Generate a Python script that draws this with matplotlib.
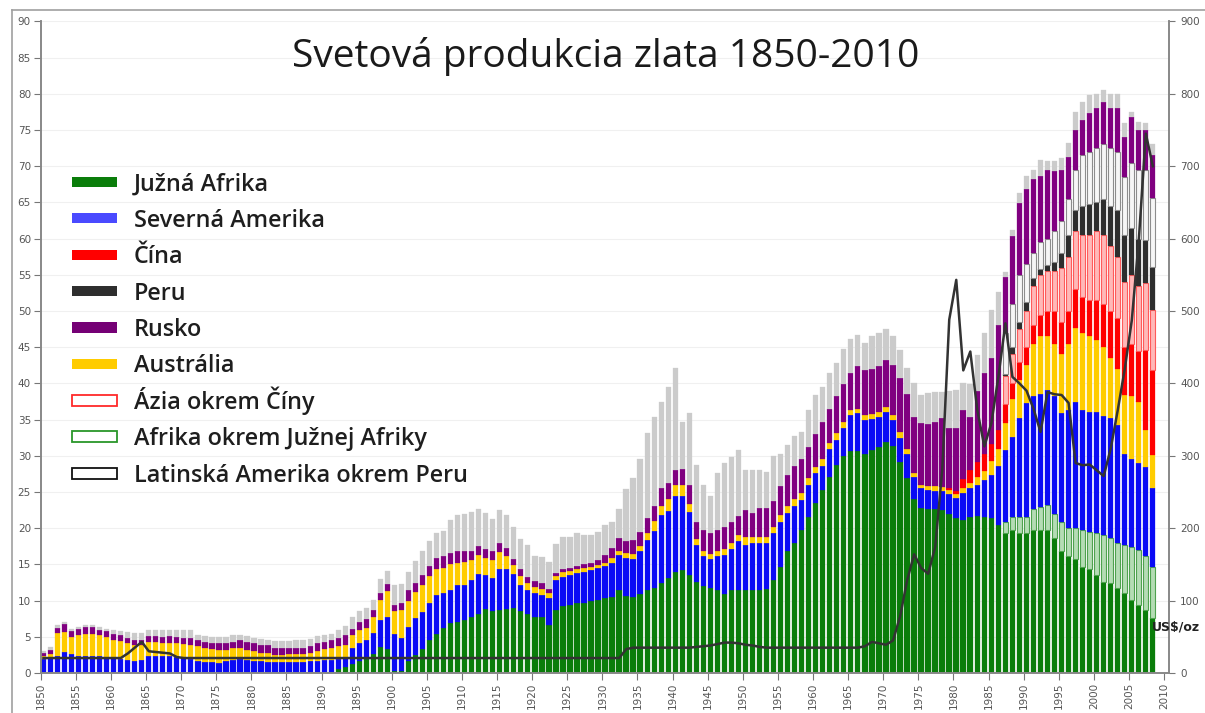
import numpy as np
import matplotlib.pyplot as plt
from matplotlib.patches import Rectangle
from matplotlib.lines import Line2D

# production, million troy oz, 1850-2008
years = np.arange(1850, 2009)

south_africa = [
    0, 0, 0, 0, 0, 0, 0, 0, 0, 0,
    0, 0, 0, 0, 0, 0, 0, 0, 0, 0,
    0, 0, 0, 0, 0, 0, 0, 0, 0, 0,
    0, 0, 0, 0, 0, 0, 0, 0, 0, 0,
    0, 0.2, 0.5, 0.8, 1.2, 1.7, 2.0, 2.6, 3.6, 3.3,
    0.3, 0.3, 1.6, 2.5, 3.3, 4.6, 5.4, 6.2, 6.9, 7.1,
    7.3, 7.8, 8.2, 8.8, 8.5, 8.7, 8.9, 9.0, 8.6, 8.2,
    7.8, 7.8, 6.6, 8.7, 9.2, 9.4, 9.6, 9.7, 10.0, 10.1,
    10.3, 10.5, 11.4, 10.6, 10.5, 10.9, 11.4, 11.8, 12.4, 13.1,
    13.9, 14.2, 13.5, 12.6, 12.0, 11.8, 11.5, 10.9, 11.4, 11.5,
    11.5, 11.4, 11.5, 11.6, 12.8, 14.7, 16.8, 17.9, 19.8, 21.5,
    23.5, 25.3, 27.1, 28.7, 30.0, 30.6, 30.6, 30.3, 30.8, 31.2,
    31.9, 31.3, 29.1, 27.0, 24.1, 22.8, 22.7, 22.6, 22.5, 22.0,
    21.4, 21.2, 21.5, 21.7, 21.6, 21.4, 20.4, 19.4, 19.8, 19.4,
    19.4, 19.8, 19.8, 19.7, 18.6, 16.8, 16.1, 15.7, 14.7, 14.3,
    13.6, 12.6, 12.4, 11.7, 11.0, 10.1, 9.4, 8.7, 7.6]

africa_other = [0] * 137 + [
    1.4, 1.8, 2.2, 2.1, 2.9, 3.1, 3.5, 3.4, 4.1, 3.9, 4.3,
    5.1, 5.2, 5.7, 6.4, 6.2, 6.2, 6.7, 7.3, 7.6, 7.4, 7.1]

north_america = [
    2.0, 2.1, 2.3, 2.9, 2.6, 2.4, 2.4, 2.4, 2.3, 2.2,
    2.1, 2.0, 1.8, 1.7, 1.8, 2.3, 2.4, 2.4, 2.3, 2.2,
    2.1, 2.0, 1.6, 1.5, 1.5, 1.4, 1.6, 1.8, 1.9, 1.8,
    1.7, 1.6, 1.5, 1.5, 1.5, 1.5, 1.5, 1.5, 1.6, 1.7,
    1.8, 1.6, 1.5, 1.4, 2.3, 2.4, 2.5, 2.9, 3.7, 4.5,
    5.1, 4.6, 4.7, 5.1, 5.1, 5.0, 5.4, 4.8, 4.6, 5.0,
    4.8, 5.0, 5.5, 4.7, 4.6, 5.7, 5.5, 4.7, 3.5, 3.3,
    3.2, 3.0, 3.7, 4.1, 4.1, 4.1, 4.2, 4.3, 4.2, 4.4,
    4.5, 4.7, 4.9, 5.3, 5.2, 5.9, 7.0, 7.8, 9.4, 9.3,
    10.5, 10.2, 8.8, 5.1, 4.1, 3.9, 4.6, 5.4, 5.7, 6.7,
    6.2, 6.5, 6.5, 6.3, 6.5, 6.1, 5.3, 5.1, 4.1, 4.5,
    4.1, 3.3, 3.8, 3.5, 3.9, 5.0, 5.3, 4.6, 4.3, 4.1,
    4.2, 3.6, 3.4, 3.3, 3.0, 2.7, 2.6, 2.6, 2.6, 2.7,
    2.8, 3.6, 4.0, 4.3, 5.0, 6.0, 8.2, 10.0, 11.0, 13.6,
    15.8, 15.5, 15.6, 15.9, 16.2, 15.0, 16.3, 17.5, 16.5, 16.6,
    16.8, 16.5, 16.6, 16.4, 12.6, 12.2, 12.0, 12.4, 10.8]

australia = [
    0.3, 0.5, 3.2, 2.7, 2.4, 2.9, 3.0, 3.0, 2.9, 2.8,
    2.5, 2.4, 2.4, 2.2, 2.0, 2.0, 1.9, 1.8, 1.9, 1.9,
    1.9, 1.9, 2.1, 1.9, 1.8, 1.8, 1.6, 1.6, 1.6, 1.4,
    1.3, 1.2, 1.2, 1.0, 1.0, 1.1, 1.1, 1.1, 1.1, 1.3,
    1.5, 1.6, 1.7, 1.7, 1.7, 1.8, 1.7, 2.3, 2.8, 3.5,
    3.1, 3.8, 3.7, 3.6, 3.8, 3.8, 3.6, 3.5, 3.5, 3.1,
    3.2, 2.8, 2.6, 2.4, 2.5, 2.3, 1.8, 1.2, 1.3, 1.0,
    0.9, 0.8, 0.7, 0.6, 0.6, 0.6, 0.5, 0.5, 0.4, 0.4,
    0.4, 0.7, 0.6, 0.7, 0.8, 0.8, 0.9, 1.4, 1.2, 1.6,
    1.6, 1.6, 1.1, 0.8, 0.8, 0.7, 0.7, 0.8, 0.8, 0.8,
    1.1, 0.9, 0.8, 0.9, 0.9, 1.0, 0.9, 1.0, 0.9, 0.9,
    0.9, 1.0, 0.8, 0.9, 0.8, 0.7, 0.6, 0.7, 0.7, 0.8,
    0.7, 0.7, 0.8, 0.6, 0.5, 0.5, 0.5, 0.6, 0.6, 0.6,
    0.5, 0.7, 0.8, 1.1, 1.3, 1.9, 2.4, 3.7, 5.2, 5.3,
    5.2, 7.3, 8.0, 7.4, 7.3, 8.1, 9.2, 10.1, 10.7, 10.4,
    9.9, 9.5, 8.3, 7.7, 8.1, 8.6, 8.5, 5.1, 4.6]

china = [0] * 129 + [
    0.2, 0.5, 1.3, 1.7, 2.1, 2.3, 2.3, 2.6, 2.6, 2.2,
    2.5, 2.5, 2.5, 3.0, 3.5, 4.5, 4.5, 4.5, 5.4, 5.0,
    5.0, 5.5, 6.0, 6.5, 7.0, 6.6, 7.3, 7.0, 11.0, 11.8]

asia_other = [0] * 137 + [
    3.9, 4.0, 4.5, 5.0, 5.5, 5.5, 5.5, 5.5, 7.5, 7.5, 8.0,
    8.5, 9.0, 9.5, 9.5, 9.0, 8.5, 9.0, 9.5, 9.0, 9.2, 8.2]

peru = [0] * 137 + [
    0.3, 1.0, 1.0, 1.3, 1.0, 0.8, 0.8, 1.3, 2.0, 3.0, 3.0,
    4.0, 4.3, 4.0, 5.0, 5.5, 6.5, 6.5, 6.5, 6.5, 6.0, 6.0]

latam_other = [0] * 137 + [
    5.7, 6.0, 6.5, 5.2, 3.5, 3.7, 3.7, 4.2, 4.5, 5.0, 5.5,
    7.0, 7.2, 7.5, 7.5, 8.0, 8.0, 8.0, 9.0, 9.5, 9.7, 9.5]

russia = [
    0.4, 0.6, 0.7, 1.2, 0.8, 0.8, 0.9, 0.9, 0.8, 0.8,
    0.8, 0.8, 0.7, 0.7, 0.7, 0.8, 0.8, 0.8, 0.9, 0.9,
    0.9, 0.9, 0.8, 0.9, 0.8, 0.9, 0.9, 0.9, 1.0, 1.1,
    1.1, 1.1, 1.1, 1.0, 0.9, 0.9, 0.9, 0.9, 1.0, 1.1,
    1.0, 1.1, 1.1, 1.3, 0.9, 1.2, 1.3, 0.9, 0.9, 1.0,
    0.9, 0.9, 1.4, 1.3, 1.4, 1.4, 1.5, 1.7, 1.6, 1.6,
    1.5, 1.2, 1.3, 1.2, 1.2, 1.2, 1.0, 0.9, 1.0, 0.7,
    0.8, 0.8, 0.6, 0.4, 0.4, 0.4, 0.5, 0.5, 0.6, 0.7,
    1.1, 1.3, 1.7, 1.7, 1.9, 1.9, 2.1, 2.0, 2.5, 2.2,
    2.1, 2.2, 2.6, 2.4, 2.9, 2.9, 3.0, 3.1, 3.0, 2.7,
    3.7, 3.3, 4.0, 4.0, 3.6, 4.0, 4.3, 4.6, 4.8, 4.3,
    4.5, 5.0, 4.7, 5.2, 5.2, 5.2, 5.9, 6.2, 6.2, 6.3,
    6.5, 7.0, 7.4, 7.6, 7.8, 8.5, 8.6, 8.8, 9.5, 8.3,
    8.6, 9.5, 7.4, 9.7, 11.2, 11.9, 14.5, 7.7, 9.3, 9.9,
    10.4, 10.3, 9.1, 9.5, 8.3, 7.0, 5.8, 5.5, 4.9, 5.3,
    5.5, 5.9, 5.5, 6.0, 5.6, 6.3, 5.5, 5.5, 5.9]

rest = [
    0.4, 0.4, 0.4, 0.3, 0.3, 0.3, 0.3, 0.3, 0.3, 0.3,
    0.5, 0.6, 0.7, 0.9, 1.0, 0.9, 0.9, 1.0, 0.9, 0.9,
    1.0, 1.1, 0.8, 0.8, 0.9, 0.9, 0.9, 0.9, 0.8, 0.8,
    0.8, 0.8, 0.8, 0.9, 1.0, 0.9, 1.0, 1.0, 1.0, 1.0,
    1.0, 0.9, 1.1, 1.3, 1.6, 1.4, 1.5, 1.4, 2.0, 1.8,
    2.8, 2.7, 2.6, 3.0, 3.2, 3.4, 3.5, 3.4, 4.6, 5.0,
    5.2, 5.5, 5.0, 5.0, 4.5, 4.6, 4.6, 4.4, 4.1, 4.5,
    3.4, 3.6, 3.7, 4.0, 4.5, 4.3, 4.5, 4.1, 3.9, 3.9,
    4.1, 3.7, 4.1, 7.1, 8.5, 10.0, 11.7, 12.3, 12.0, 13.3,
    14.0, 6.4, 9.9, 7.8, 6.2, 5.1, 7.8, 8.8, 9.0, 9.1,
    5.5, 5.9, 5.2, 4.9, 6.2, 4.5, 4.2, 4.1, 3.7, 5.1,
    5.4, 4.9, 5.1, 4.5, 4.8, 4.6, 4.3, 3.8, 4.5, 4.5,
    4.2, 3.9, 3.9, 3.6, 4.7, 3.9, 4.3, 4.2, 3.6, 5.2,
    5.3, 3.8, 4.5, 5.0, 5.6, 6.6, 4.5, 0.7, 0.9, 1.4,
    1.7, 1.2, 2.3, 1.2, 1.4, 1.7, 1.9, 2.5, 2.5, 2.5,
    2.0, 1.6, 2.0, 2.0, 1.8, 0.7, 1.1, 0.9, 1.5]

# gold price, US$/oz (right axis)
price = ([20.67] * 12 + [27, 35, 43, 30, 29, 28, 27, 22] + [20.67] * 63 + [33]
         + [35] * 9 + [36, 37, 38, 40, 42, 42, 41, 39, 38, 36, 35] + [35] * 13
         + [37, 43, 41, 39, 45, 78, 128, 164, 145, 137, 174, 280, 488,
            543, 418, 444, 363, 313, 345, 409, 483, 409, 400,
            390, 365, 333, 388, 385, 384, 373, 290, 287, 288,
            280, 272, 310, 363, 420, 487, 598, 745, 700])

for s in [south_africa, africa_other, north_america, australia, china,
          asia_other, peru, latam_other, russia, rest, price]:
    assert len(s) == len(years), len(s)

W, H = 1205, 713
fig = plt.figure(figsize=(W / 100, H / 100), dpi=100)
ax = fig.add_axes([40.7 / W, (H - 673) / H, (1169 - 40.7) / W, (673 - 21.4) / H])

# (values, face, edge, edge width)
layers = [
    (south_africa, '#0a7d0a', None, 0),
    (africa_other, '#b4dcb4', '#4ea24e', 0.8),
    (north_america, '#0a0af5', None, 0),
    (australia, '#ffcc00', None, 0),
    (china, '#ff0000', None, 0),
    (asia_other, '#ffb8b8', '#ff5a5a', 0.8),
    (peru, '#2e2e2e', None, 0),
    (latam_other, '#f6f6f6', '#8c8c8c', 0.8),
    (russia, '#800080', None, 0),
    (rest, '#cbcbcb', None, 0),
]

bottom = np.zeros(len(years))
for vals, face, edge, lw in layers:
    vals = np.array(vals, dtype=float)
    m = vals > 0
    ax.bar(years[m], vals[m], width=0.76, align='edge', bottom=bottom[m],
           color=face, edgecolor=edge if edge else face,
           linewidth=lw if edge else 0.2, zorder=2)
    bottom += vals

ax.set_xlim(1850, 2010.7)
ax.set_ylim(0, 90)
ax.set_yticks(range(0, 91, 5))
ax.set_xticks(range(1850, 2011, 5))
ax.set_xticklabels([str(y) for y in range(1850, 2011, 5)], rotation=90)
ax.yaxis.grid(True, color='#f0f0f0', linewidth=0.8)
ax.set_axisbelow(True)
ax.tick_params(axis='both', direction='out', length=5, width=0.8, color='#777777',
               labelsize=7.5, labelcolor='#555555', pad=2)
for side in ['left', 'bottom', 'right']:
    ax.spines[side].set_color('#888888')
    ax.spines[side].set_linewidth(1.2)
ax.spines['top'].set_visible(False)

ax2 = ax.twinx()
ax2.set_ylim(0, 900)
ax2.set_yticks(range(0, 901, 100))
ax2.plot(years + 0.4, price, color='#333333', linewidth=1.8, zorder=5)
ax2.tick_params(axis='y', direction='out', length=4, width=0.8, color='#777777',
                labelsize=7.5, labelcolor='#555555', pad=4)
for side in ['left', 'bottom', 'right']:
    ax2.spines[side].set_color('#888888')
    ax2.spines[side].set_linewidth(1.2)
ax2.spines['top'].set_visible(False)

# outer frame of the picture
fig.add_artist(Line2D([12 / W, 12 / W], [0, (H - 10) / H], transform=fig.transFigure,
                      color='#a0a0a0', linewidth=1.2))
fig.add_artist(Line2D([12 / W, 1], [(H - 10) / H, (H - 10) / H], transform=fig.transFigure,
                      color='#a0a0a0', linewidth=1.2))

fig.text(606 / W, (H - 57) / H, 'Svetová produkcia zlata 1850-2010', ha='center', va='center',
         fontsize=28, family='Open Sans', color='#1a1a1a')
fig.text(1176 / W, (H - 627) / H, 'US$/oz', ha='center', va='center', fontsize=9,
         fontweight='bold', color='#222222')

# legend
legend_items = [
    ('Južná Afrika', '#0a7d0a', None),
    ('Severná Amerika', '#4a4aff', None),
    ('Čína', '#ff0000', None),
    ('Peru', '#2e2e2e', None),
    ('Rusko', '#750075', None),
    ('Austrália', '#ffcc00', None),
    ('Ázia okrem Číny', 'white', '#ff2a2a'),
    ('Afrika okrem Južnej Afriky', 'white', '#2a962a'),
    ('Latinská Amerika okrem Peru', 'white', '#111111'),
]
for i, (label, face, edge) in enumerate(legend_items):
    yc = 181.7 + i * 36.45
    if edge is None:
        r = Rectangle((72 / W, (H - yc - 5) / H), 45 / W, 10 / H, transform=fig.transFigure,
                      facecolor=face, edgecolor='none')
    else:
        r = Rectangle((72 / W, (H - yc - 5.5) / H), 45 / W, 11 / H, transform=fig.transFigure,
                      facecolor=face, edgecolor=edge, linewidth=1.3)
    fig.add_artist(r)
    fig.text(134 / W, (H - yc - 8.5) / H, label, ha='left', va='baseline', fontsize=16.8,
             family='Open Sans', fontweight='semibold', color='#1e1e1e')

fig.savefig('out.png', dpi=100)
